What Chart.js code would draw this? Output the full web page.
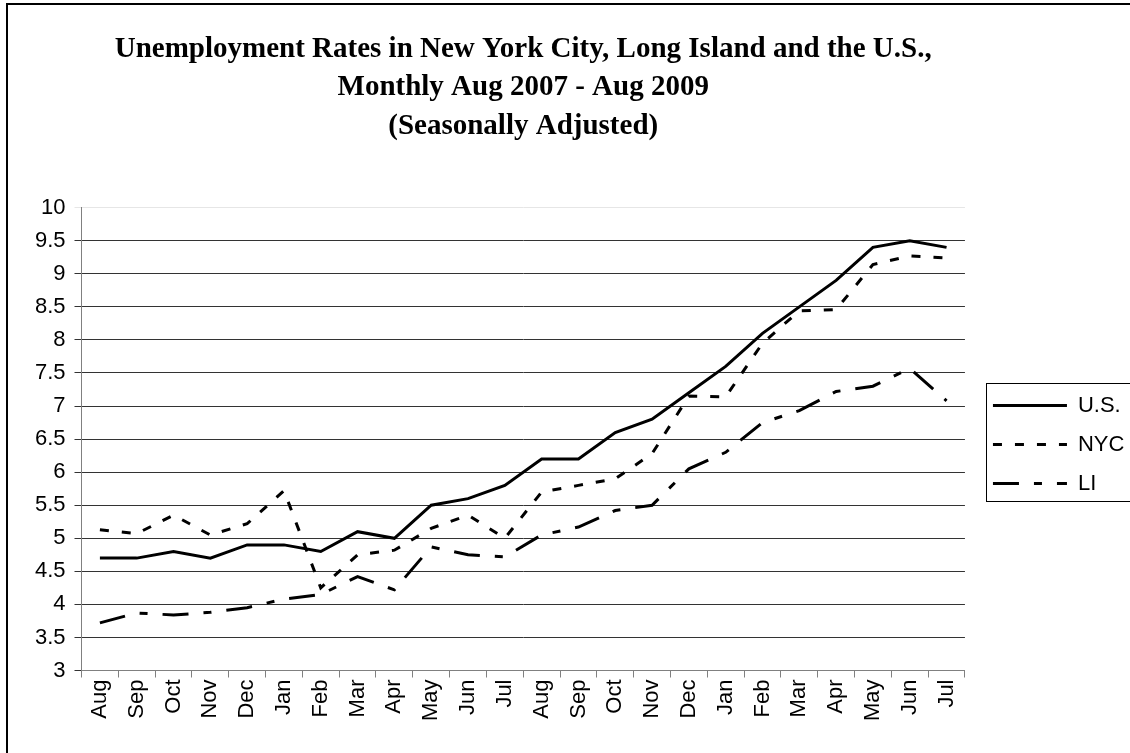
<!DOCTYPE html>
<html lang="en">
<head>
  <meta charset="UTF-8">
  <title>Unemployment Rates NYC, LI and U.S.</title>
  <style>
    html, body {
      margin: 0;
      padding: 0;
      background: #fff;
      overflow: hidden;
    }
    .frame {
      position: absolute;
      left: 6px;
      top: 3px;
      width: 1136px;
      height: 760px;
      border-left: 2px solid #000;
      border-top: 2px solid #000;
    }
    .chart-box {
      position: relative;
      width: 1136px;
      height: 750px;
    }
  </style>
</head>
<body>
  <div class="frame">
    <div class="chart-box">
      <canvas id="rateChart"></canvas>
    </div>
  </div>

  <script src="https://cdn.jsdelivr.net/npm/chart.js@4.4.0/dist/chart.umd.min.js"></script>
  <script>
    // Aug 2007 .. Jul 2009, seasonally adjusted (%)
    const months = ['Aug', 'Sep', 'Oct', 'Nov', 'Dec', 'Jan', 'Feb', 'Mar', 'Apr', 'May', 'Jun', 'Jul',
                    'Aug', 'Sep', 'Oct', 'Nov', 'Dec', 'Jan', 'Feb', 'Mar', 'Apr', 'May', 'Jun', 'Jul'];
    const usRate = [4.7, 4.7, 4.8, 4.7, 4.9, 4.9, 4.8, 5.1, 5.0, 5.5, 5.6, 5.8,
                    6.2, 6.2, 6.6, 6.8, 7.2, 7.6, 8.1, 8.5, 8.9, 9.4, 9.5, 9.4];
    const nycRate = [5.13, 5.07, 5.35, 5.05, 5.22, 5.72, 4.25, 4.75, 4.82, 5.15, 5.35, 5.0,
                     5.7, 5.8, 5.9, 6.28, 7.15, 7.14, 7.95, 8.44, 8.46, 9.14, 9.27, 9.24];
    const liRate = [3.72, 3.87, 3.84, 3.88, 3.95, 4.08, 4.15, 4.42, 4.22, 4.87, 4.75, 4.72,
                    5.05, 5.17, 5.42, 5.5, 6.05, 6.3, 6.75, 6.93, 7.22, 7.3, 7.57, 7.08];
    const titleLines = ['Unemployment Rates in New York City, Long Island and the U.S.,',
                        'Monthly Aug 2007 - Aug 2009',
                        '(Seasonally Adjusted)'];

    const SAMPLE_W = 74;   // legend line sample length
    const LEGEND_FONT = 22;

    // legend line samples (with dashes) + the box round the legend, open on the right
    const legendFrame = {
      id: 'legendFrame',
      afterDraw(chart) {
        const boxes = chart.legend.legendHitBoxes;
        if (!boxes || !boxes.length) return;
        const c = chart.ctx;
        c.save();
        c.strokeStyle = '#000';
        boxes.forEach((hb, i) => {
          const ds = chart.data.datasets[i];
          const cy = hb.top + LEGEND_FONT / 2;
          c.lineWidth = 3;
          c.setLineDash(ds.borderDash || []);
          c.beginPath();
          c.moveTo(hb.left, cy);
          c.lineTo(hb.left + SAMPLE_W, cy);
          c.stroke();
        });
        const first = boxes[0].top + LEGEND_FONT / 2;
        const last = boxes[boxes.length - 1].top + LEGEND_FONT / 2;
        const left = Math.round(boxes[0].left - 7);
        const top = Math.round(first - 23);
        const bottom = Math.round(last + 17);
        c.setLineDash([]);
        c.lineWidth = 1;
        c.strokeRect(left + 0.5, top + 0.5, chart.width - left + 10, bottom - top);
        c.restore();
      }
    };

    const ctx = document.getElementById('rateChart').getContext('2d');
    new Chart(ctx, {
      type: 'line',
      data: {
        labels: months,
        datasets: [
          {
            label: 'U.S.',
            data: usRate,
            borderColor: '#000',
            backgroundColor: '#000',
            borderWidth: 3,
            pointRadius: 0,
            pointStyle: 'line',
            tension: 0
          },
          {
            label: 'NYC',
            data: nycRate,
            borderColor: '#000',
            backgroundColor: '#000',
            borderWidth: 3,
            borderDash: [9, 13],
            pointRadius: 0,
            pointStyle: 'line',
            tension: 0
          },
          {
            label: 'LI',
            data: liRate,
            borderColor: '#000',
            backgroundColor: '#000',
            borderWidth: 3,
            borderDash: [26, 15, 8, 15],
            pointRadius: 0,
            pointStyle: 'line',
            tension: 0
          }
        ]
      },
      options: {
        responsive: true,
        maintainAspectRatio: false,
        animation: false,
        layout: {
          padding: { left: 0, right: 9.6, top: 0, bottom: 0 }
        },
        scales: {
          x: {
            offset: true,
            grid: {
              offset: true,
              drawOnChartArea: false,
              tickLength: 7,
              color: '#808080'
            },
            border: { color: '#808080' },
            ticks: {
              autoSkip: false,
              minRotation: 90,
              maxRotation: 90,
              padding: 2,
              color: '#000',
              font: { family: 'Liberation Sans, Arial, sans-serif', size: 22 }
            },
            afterFit: (scale) => { scale.height = 84.5; }
          },
          y: {
            min: 3,
            max: 10,
            ticks: {
              stepSize: 0.5,
              padding: 9,
              color: '#000',
              font: { family: 'Liberation Sans, Arial, sans-serif', size: 22 },
              callback: (v) => String(Math.round(v * 10) / 10)
            },
            grid: {
              tickLength: 7,
              color: (c) => (c.tick && c.tick.value === 10 ? '#e6e6e6' : '#333')
            },
            border: { color: '#808080' },
            afterFit: (scale) => { scale.width = 73.5; }
          }
        },
        plugins: {
          title: {
            display: true,
            fullSize: false,
            text: titleLines,
            color: '#000',
            font: { family: 'Liberation Serif, Times New Roman, serif', size: 29, weight: 'bold', lineHeight: 1.33 },
            padding: { top: 25, bottom: 62 }
          },
          legend: {
            position: 'right',
            align: 'center',
            fullSize: false,
            labels: {
              usePointStyle: true,
              pointStyleWidth: SAMPLE_W,
              padding: 28,
              color: '#000',
              font: { family: 'Liberation Sans, Arial, sans-serif', size: LEGEND_FONT, lineHeight: 0.5 },
              generateLabels: (chart) => {
                const items = Chart.defaults.plugins.legend.labels.generateLabels(chart);
                return items.map((it) => Object.assign(it, { text: [it.text], lineWidth: 0 }));
              }
            }
          },
          tooltip: { enabled: false }
        }
      },
      plugins: [legendFrame]
    });
  </script>
</body>
</html>
